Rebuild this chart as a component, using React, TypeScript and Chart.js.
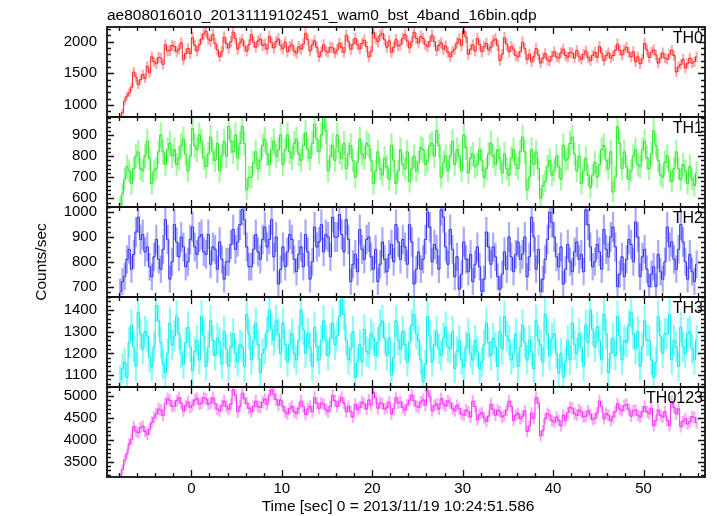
import React, { useEffect, useRef } from "react";
import { Chart, registerables } from "chart.js";

Chart.register(...registerables);

// ---- data: bin centres in seconds (0.25 s bins) and count rates ----
const TIMES = [
  -7.875, -7.625, -7.375, -7.125, -6.875, -6.625, -6.375, -6.125, -5.875, -5.625, -5.375, -5.125, -4.875, -4.625, -4.375, -4.125,
  -3.875, -3.625, -3.375, -3.125, -2.875, -2.625, -2.375, -2.125, -1.875, -1.625, -1.375, -1.125, -0.875, -0.625, -0.375, -0.125,
  0.125, 0.375, 0.625, 0.875, 1.125, 1.375, 1.625, 1.875, 2.125, 2.375, 2.625, 2.875, 3.125, 3.375, 3.625, 3.875,
  4.125, 4.375, 4.625, 4.875, 5.125, 5.375, 5.625, 5.875, 6.125, 6.375, 6.625, 6.875, 7.125, 7.375, 7.625, 7.875,
  8.125, 8.375, 8.625, 8.875, 9.125, 9.375, 9.625, 9.875, 10.125, 10.375, 10.625, 10.875, 11.125, 11.375, 11.625, 11.875,
  12.125, 12.375, 12.625, 12.875, 13.125, 13.375, 13.625, 13.875, 14.125, 14.375, 14.625, 14.875, 15.125, 15.375, 15.625, 15.875,
  16.125, 16.375, 16.625, 16.875, 17.125, 17.375, 17.625, 17.875, 18.125, 18.375, 18.625, 18.875, 19.125, 19.375, 19.625, 19.875,
  20.125, 20.375, 20.625, 20.875, 21.125, 21.375, 21.625, 21.875, 22.125, 22.375, 22.625, 22.875, 23.125, 23.375, 23.625, 23.875,
  24.125, 24.375, 24.625, 24.875, 25.125, 25.375, 25.625, 25.875, 26.125, 26.375, 26.625, 26.875, 27.125, 27.375, 27.625, 27.875,
  28.125, 28.375, 28.625, 28.875, 29.125, 29.375, 29.625, 29.875, 30.125, 30.375, 30.625, 30.875, 31.125, 31.375, 31.625, 31.875,
  32.125, 32.375, 32.625, 32.875, 33.125, 33.375, 33.625, 33.875, 34.125, 34.375, 34.625, 34.875, 35.125, 35.375, 35.625, 35.875,
  36.125, 36.375, 36.625, 36.875, 37.125, 37.375, 37.625, 37.875, 38.125, 38.375, 38.625, 38.875, 39.125, 39.375, 39.625, 39.875,
  40.125, 40.375, 40.625, 40.875, 41.125, 41.375, 41.625, 41.875, 42.125, 42.375, 42.625, 42.875, 43.125, 43.375, 43.625, 43.875,
  44.125, 44.375, 44.625, 44.875, 45.125, 45.375, 45.625, 45.875, 46.125, 46.375, 46.625, 46.875, 47.125, 47.375, 47.625, 47.875,
  48.125, 48.375, 48.625, 48.875, 49.125, 49.375, 49.625, 49.875, 50.125, 50.375, 50.625, 50.875, 51.125, 51.375, 51.625, 51.875,
  52.125, 52.375, 52.625, 52.875, 53.125, 53.375, 53.625, 53.875, 54.125, 54.375, 54.625, 54.875, 55.125, 55.375, 55.625, 55.875,
];

const TH0 = [
  780, 880, 1060, 1140, 1190, 1280, 1520, 1440, 1320, 1400, 1480, 1420, 1610, 1510, 1760, 1680,
  1650, 1750, 1740, 1640, 1950, 1850, 1860, 1940, 1920, 1840, 1880, 1980, 1710, 1810, 1890, 1810,
  2060, 1940, 1850, 1950, 2040, 2120, 2160, 2040, 2010, 2110, 1970, 1870, 1760, 1840, 2070, 1970,
  1900, 2000, 2150, 2050, 1880, 1980, 2030, 1930, 1850, 1950, 2110, 1990, 1910, 2010, 2040, 1940,
  1960, 1880, 2080, 1980, 1900, 2000, 2040, 1940, 1890, 1990, 1840, 1920, 1950, 1850, 1820, 1920,
  1880, 1960, 2130, 2030, 1850, 1950, 2010, 1910, 1760, 1840, 1950, 1850, 1830, 1910, 1900, 1820,
  1870, 1970, 1910, 1830, 2100, 2000, 1880, 1960, 2050, 1950, 1890, 1970, 2020, 1920, 1760, 1840,
  2150, 2050, 2000, 2100, 2130, 2030, 1910, 2010, 1830, 1910, 2030, 1930, 1950, 2050, 2110, 2010,
  1900, 2000, 2150, 2050, 1980, 2080, 2050, 1950, 1920, 2000, 2100, 2000, 1860, 1940, 1980, 1880,
  1930, 1830, 1760, 1840, 1880, 1980, 2040, 1940, 2170, 2070, 1800, 1880, 1950, 1850, 2050, 1950,
  1840, 1920, 1970, 1870, 1910, 2010, 2040, 1940, 1700, 1800, 2060, 1960, 1840, 1920, 1880, 1780,
  1760, 1840, 1990, 1890, 1720, 1800, 1680, 1760, 1890, 1790, 1660, 1740, 1810, 1710, 1690, 1770,
  1840, 1760, 1740, 1820, 1880, 1780, 1750, 1830, 1820, 1740, 1860, 1760, 1720, 1800, 1850, 1750,
  1700, 1780, 1830, 1750, 1920, 1820, 1700, 1780, 1820, 1740, 1780, 1860, 1960, 1860, 1790, 1870,
  1910, 1830, 1760, 1840, 1680, 1760, 1650, 1730, 1970, 1870, 1750, 1830, 1870, 1790, 1660, 1740,
  1820, 1740, 1720, 1800, 1860, 1780, 1520, 1600, 1640, 1720, 1580, 1660, 1740, 1660, 1680, 1760,
];

const TH1 = [
  560, 620, 690, 750, 730, 670, 740, 800, 820, 740, 730, 800, 870, 790, 670, 730,
  740, 820, 900, 820, 760, 830, 860, 800, 830, 760, 790, 850, 880, 810, 730, 800,
  930, 850, 830, 900, 870, 790, 750, 810, 890, 820, 780, 860, 730, 800, 870, 800,
  940, 870, 820, 900, 790, 860, 940, 860, 640, 700, 700, 770, 820, 740, 780, 850,
  880, 810, 760, 830, 870, 800, 830, 900, 760, 830, 900, 820, 790, 860, 880, 810,
  780, 850, 910, 830, 790, 860, 950, 880, 820, 900, 990, 920, 730, 800, 850, 780,
  900, 820, 790, 860, 740, 810, 850, 780, 700, 770, 880, 810, 790, 860, 850, 780,
  670, 730, 820, 740, 710, 790, 750, 690, 850, 780, 670, 730, 830, 760, 740, 820,
  680, 740, 800, 730, 770, 840, 830, 760, 780, 850, 860, 800, 920, 850, 700, 770,
  800, 730, 800, 870, 760, 830, 800, 730, 900, 840, 720, 790, 810, 750, 760, 830,
  780, 700, 740, 810, 860, 800, 760, 830, 790, 720, 810, 740, 710, 790, 830, 760,
  740, 820, 890, 820, 640, 700, 830, 760, 820, 740, 600, 660, 680, 750, 780, 710,
  730, 800, 750, 690, 850, 780, 790, 860, 890, 810, 730, 800, 670, 730, 790, 710,
  650, 710, 770, 700, 760, 830, 850, 780, 740, 820, 630, 700, 940, 860, 740, 820,
  750, 690, 730, 800, 830, 760, 750, 830, 870, 790, 740, 810, 920, 850, 780, 710,
  700, 770, 800, 730, 680, 740, 820, 740, 690, 760, 730, 670, 750, 690, 660, 720,
];

const TH2 = [
  680, 720, 740, 810, 850, 770, 830, 920, 980, 890, 910, 840, 860, 780, 740, 820,
  890, 810, 770, 850, 970, 890, 730, 800, 950, 880, 820, 900, 860, 780, 800, 890,
  940, 860, 830, 900, 910, 840, 830, 910, 790, 860, 850, 770, 880, 810, 730, 800,
  800, 870, 930, 850, 880, 950, 1010, 970, 860, 780, 780, 850, 910, 840, 810, 890,
  940, 860, 890, 970, 820, 900, 710, 770, 860, 780, 840, 910, 890, 810, 760, 830,
  860, 780, 910, 840, 730, 800, 940, 860, 880, 950, 840, 910, 900, 820, 980, 900,
  900, 990, 910, 840, 970, 890, 720, 790, 830, 760, 930, 850, 810, 890, 900, 820,
  770, 850, 720, 790, 880, 810, 760, 830, 870, 800, 950, 880, 810, 890, 860, 790,
  950, 880, 710, 770, 840, 770, 810, 890, 1000, 940, 800, 870, 850, 770, 1010, 980,
  860, 790, 930, 850, 740, 820, 690, 750, 880, 810, 760, 830, 720, 790, 860, 780,
  680, 730, 920, 860, 790, 860, 820, 740, 690, 750, 840, 770, 900, 820, 760, 830,
  880, 810, 830, 900, 740, 820, 980, 900, 770, 850, 680, 730, 810, 890, 1000, 960,
  900, 820, 780, 860, 710, 770, 870, 800, 760, 840, 880, 810, 830, 760, 1010, 950,
  860, 780, 800, 870, 840, 770, 930, 850, 820, 900, 940, 860, 700, 750, 820, 740,
  810, 890, 870, 800, 960, 900, 740, 820, 850, 770, 700, 750, 780, 700, 830, 760,
  730, 800, 940, 860, 880, 810, 770, 850, 950, 880, 800, 730, 830, 760, 720, 790,
];

const TH3 = [
  1080, 1130, 1160, 1090, 1250, 1330, 1230, 1140, 1390, 1290, 1220, 1300, 1280, 1180, 1140, 1230,
  1420, 1350, 1250, 1150, 1110, 1200, 1340, 1240, 1280, 1370, 1290, 1200, 1150, 1250, 1320, 1230,
  1120, 1210, 1260, 1170, 1370, 1280, 1140, 1230, 1350, 1260, 1190, 1270, 1250, 1150, 1300, 1220,
  1140, 1230, 1290, 1200, 1160, 1240, 1230, 1140, 1380, 1290, 1170, 1260, 1340, 1240, 1110, 1200,
  1220, 1300, 1400, 1310, 1260, 1350, 1290, 1200, 1340, 1240, 1160, 1240, 1290, 1200, 1170, 1260,
  1400, 1310, 1200, 1290, 1230, 1140, 1320, 1230, 1170, 1260, 1350, 1260, 1190, 1270, 1340, 1240,
  1280, 1370, 1450, 1380, 1260, 1170, 1220, 1300, 1090, 1160, 1240, 1160, 1310, 1210, 1200, 1290,
  1270, 1190, 1250, 1330, 1350, 1270, 1190, 1270, 1100, 1180, 1350, 1260, 1220, 1300, 1240, 1160,
  1250, 1330, 1380, 1290, 1260, 1170, 1070, 1150, 1370, 1280, 1160, 1240, 1300, 1220, 1190, 1270,
  1320, 1230, 1220, 1300, 1130, 1210, 1260, 1170, 1140, 1230, 1290, 1200, 1170, 1260, 1210, 1130,
  1160, 1240, 1340, 1250, 1190, 1270, 1230, 1140, 1300, 1220, 1370, 1280, 1260, 1170, 1200, 1290,
  1140, 1230, 1330, 1250, 1170, 1260, 1210, 1130, 1350, 1260, 1240, 1160, 1380, 1290, 1190, 1270,
  1290, 1200, 1110, 1200, 1090, 1160, 1260, 1170, 1340, 1240, 1200, 1290, 1230, 1140, 1330, 1250,
  1400, 1310, 1230, 1320, 1260, 1170, 1380, 1290, 1110, 1200, 1270, 1190, 1370, 1280, 1170, 1260,
  1250, 1330, 1390, 1290, 1220, 1300, 1140, 1230, 1350, 1260, 1260, 1170, 1090, 1160, 1370, 1280,
  1200, 1290, 1290, 1380, 1170, 1260, 1230, 1140, 1320, 1230, 1200, 1290, 1300, 1220, 1170, 1260,
];

const TH0123 = [
  3120, 3320, 3530, 3680, 3900, 4010, 4300, 4200, 4160, 4280, 4310, 4190, 4120, 4240, 4400, 4510,
  4590, 4700, 4680, 4560, 4820, 4940, 4900, 4760, 4770, 4890, 4960, 4840, 4660, 4780, 4860, 4740,
  4790, 4910, 4950, 4810, 4840, 4960, 4930, 4810, 4840, 4960, 4820, 4700, 4660, 4780, 4880, 4760,
  4690, 4810, 5140, 5020, 4640, 4760, 5060, 4940, 4840, 4720, 4640, 4760, 4880, 4760, 4740, 4860,
  4930, 4810, 5020, 5140, 5040, 4920, 4790, 4910, 4760, 4640, 4590, 4710, 4760, 4640, 4600, 4720,
  4880, 4760, 4580, 4700, 4760, 4640, 4960, 4840, 4720, 4840, 4810, 4690, 4640, 4760, 5010, 4890,
  4760, 4880, 4960, 4840, 4640, 4760, 4640, 4520, 4810, 4690, 4740, 4860, 4820, 4700, 4910, 4790,
  5080, 4960, 4720, 4840, 4820, 4700, 4740, 4860, 4590, 4710, 4960, 4840, 4860, 4740, 4680, 4800,
  4900, 5020, 4890, 4770, 4740, 4860, 4910, 4790, 5110, 4990, 4660, 4780, 4820, 4700, 4940, 4820,
  4770, 4890, 4840, 4720, 4660, 4780, 4710, 4590, 4560, 4680, 4640, 4520, 4880, 4760, 4460, 4580,
  4620, 4500, 4420, 4540, 4810, 4690, 4560, 4680, 4640, 4520, 4560, 4680, 4880, 4760, 4440, 4560,
  4600, 4480, 4540, 4660, 4190, 4310, 4610, 4490, 4960, 4840, 4090, 4210, 4480, 4600, 4560, 4440,
  4400, 4520, 4440, 4320, 4560, 4440, 4620, 4740, 4720, 4600, 4560, 4680, 4640, 4520, 4540, 4660,
  4580, 4460, 4490, 4610, 4880, 4760, 4480, 4600, 4560, 4440, 4520, 4640, 4820, 4700, 4660, 4780,
  4810, 4690, 4540, 4660, 4680, 4560, 4520, 4640, 4760, 4640, 4600, 4720, 4320, 4440, 4680, 4560,
  4520, 4640, 4440, 4320, 4860, 4740, 4590, 4710, 4300, 4420, 4480, 4360, 4410, 4530, 4510, 4390,
];

const BIN_WIDTH = 0.25;

const X_TICKS = [0, 10, 20, 30, 40, 50];
const TH0_TICKS = [1000, 1500, 2000];
const TH1_TICKS = [600, 700, 800, 900];
const TH2_TICKS = [700, 800, 900, 1000];
const TH3_TICKS = [1100, 1200, 1300, 1400];
const TH0123_TICKS = [3500, 4000, 4500, 5000];
const PANEL_LABELS = ["TH0", "TH1", "TH2", "TH3", "TH0123"];

const TITLE = "ae808016010_20131119102451_wam0_bst_4band_16bin.qdp";
const X_TITLE = "Time [sec] 0 = 2013/11/19 10:24:51.586";
const Y_TITLE = "Counts/sec";

// ---- styling / configuration ----
const FONT = "'Liberation Sans', Arial, Helvetica, sans-serif";
const FONT_SIZE = 15;
const X_MIN = -9.33;
const X_MAX = 56.8;

const PANELS = [
  { id: "y0", name: PANEL_LABELS[0], values: TH0, ticks: TH0_TICKS, min: 810, max: 2230, minor: 100, color: "rgb(255,35,35)", band: "rgba(255,100,100,0.55)" },
  { id: "y1", name: PANEL_LABELS[1], values: TH1, ticks: TH1_TICKS, min: 559, max: 985, minor: 20, color: "rgb(40,230,40)", band: "rgba(90,245,90,0.55)" },
  { id: "y2", name: PANEL_LABELS[2], values: TH2, ticks: TH2_TICKS, min: 658, max: 1021, minor: 20, color: "rgb(45,45,240)", band: "rgba(100,100,250,0.55)" },
  { id: "y3", name: PANEL_LABELS[3], values: TH3, ticks: TH3_TICKS, min: 1045, max: 1460, minor: 20, color: "rgb(10,235,235)", band: "rgba(60,250,250,0.6)" },
  { id: "y4", name: PANEL_LABELS[4], values: TH0123, ticks: TH0123_TICKS, min: 3150, max: 5205, minor: 100, color: "rgb(250,40,250)", band: "rgba(250,100,250,0.55)" },
];

// Poisson error bars drawn behind each stepped light curve, clipped to its panel
const panelPlugin = {
  id: "qdpPanels",
  beforeDatasetDraw(chart: any, args: any) {
    const p = PANELS[args.index];
    const xs = chart.scales.x;
    const ys = chart.scales[p.id];
    const ctx = chart.ctx;
    const pts = chart.data.datasets[args.index].data as { x: number; y: number }[];
    ctx.save();
    ctx.beginPath();
    ctx.rect(xs.left, ys.top, xs.right - xs.left, ys.bottom - ys.top);
    ctx.clip();
    ctx.strokeStyle = p.band;
    ctx.lineWidth = 2.2;
    ctx.beginPath();
    pts.forEach(({ x: t, y: v }) => {
      const e = Math.sqrt(v * BIN_WIDTH) / BIN_WIDTH;
      const x = xs.getPixelForValue(t);
      ctx.moveTo(x, ys.getPixelForValue(v + e));
      ctx.lineTo(x, ys.getPixelForValue(v - e));
    });
    ctx.stroke();
  },
  afterDatasetDraw(chart: any) {
    chart.ctx.restore();
  },
  afterDatasetsDraw(chart: any) {
    const ctx = chart.ctx;
    const xs = chart.scales.x;
    const L = xs.left;
    const R = xs.right;
    ctx.save();
    ctx.strokeStyle = "#111";
    ctx.lineWidth = 1.3;
    PANELS.forEach((p) => {
      const ys = chart.scales[p.id];
      const T = ys.top;
      const B = ys.bottom;
      ctx.beginPath();
      p.ticks.forEach((v) => {
        const y = Math.round(ys.getPixelForValue(v)) + 0.5;
        ctx.moveTo(L, y); ctx.lineTo(L + 7, y);
        ctx.moveTo(R, y); ctx.lineTo(R - 7, y);
      });
      const start = Math.ceil(p.min / p.minor) * p.minor;
      for (let v = start; v <= p.max; v += p.minor) {
        const y = Math.round(ys.getPixelForValue(v)) + 0.5;
        ctx.moveTo(L, y); ctx.lineTo(L + 4, y);
        ctx.moveTo(R, y); ctx.lineTo(R - 4, y);
      }
      for (let t = -8; t <= X_MAX; t += 2) {
        const x = Math.round(xs.getPixelForValue(t)) + 0.5;
        const len = t % 10 === 0 ? 7 : 4;
        ctx.moveTo(x, T); ctx.lineTo(x, T + len);
        ctx.moveTo(x, B); ctx.lineTo(x, B - len);
      }
      ctx.stroke();
    });
    ctx.lineWidth = 1.8;
    PANELS.forEach((p) => {
      const ys = chart.scales[p.id];
      ctx.strokeRect(L, ys.top, R - L, ys.bottom - ys.top);
    });
    ctx.fillStyle = "#000";
    ctx.font = `${FONT_SIZE + 1}px ${FONT}`;
    ctx.textAlign = "right";
    ctx.textBaseline = "alphabetic";
    PANELS.forEach((p) => {
      const ys = chart.scales[p.id];
      ctx.fillText(p.name, R - 2, ys.top + 16);
    });
    ctx.font = `${FONT_SIZE + 0.5}px ${FONT}`;
    ctx.textAlign = "left";
    ctx.fillText(TITLE, L, 20);
    ctx.textAlign = "center";
    ctx.fillText(X_TITLE, 398, 511);
    ctx.translate(46, 262);
    ctx.rotate(-Math.PI / 2);
    ctx.fillText(Y_TITLE, 0, 0);
    ctx.restore();
  },
};

export default function App() {
  const ref = useRef<HTMLCanvasElement | null>(null);

  useEffect(() => {
    if (!ref.current) return;
    const scales: any = {
      x: {
        type: "linear",
        position: "bottom",
        min: X_MIN,
        max: X_MAX,
        grid: { display: false, drawTicks: false },
        border: { display: false },
        ticks: {
          font: { family: FONT, size: FONT_SIZE },
          color: "#000",
          padding: 3,
          autoSkip: false,
          maxRotation: 0,
          callback: (v: any) => String(v),
        },
        afterBuildTicks: (s: any) => {
          s.ticks = X_TICKS.map((v) => ({ value: v }));
        },
        afterFit: (s: any) => {
          s.height = 39;
        },
      },
    };
    PANELS.forEach((p, i) => {
      scales[p.id] = {
        type: "linear",
        position: "left",
        stack: "panels",
        stackWeight: 1,
        weight: 10 - i,
        offset: false,
        min: p.min,
        max: p.max,
        grid: { display: false, drawTicks: false },
        border: { display: false },
        ticks: {
          font: { family: FONT, size: FONT_SIZE },
          color: "#000",
          padding: 10,
          autoSkip: false,
          callback: (v: any) => String(v),
        },
        afterBuildTicks: (s: any) => {
          s.ticks = p.ticks.map((v) => ({ value: v }));
        },
        afterFit: (s: any) => {
          s.width = 107;
        },
      };
    });

    const chart = new Chart(ref.current, {
      type: "line",
      data: {
        datasets: PANELS.map((p) => ({
          label: p.name,
          data: TIMES.map((t, k) => ({ x: t, y: p.values[k] })),
          xAxisID: "x",
          yAxisID: p.id,
          borderColor: p.color,
          borderWidth: 1,
          stepped: "middle" as const,
          pointRadius: 0,
          fill: false,
        })),
      },
      options: {
        responsive: false,
        animation: false,
        devicePixelRatio: 1,
        layout: { padding: { left: 0, right: 12, top: 27, bottom: 0 } },
        plugins: { legend: { display: false }, tooltip: { enabled: false }, title: { display: false } },
        scales,
      },
      plugins: [panelPlugin],
    });
    return () => chart.destroy();
  }, []);

  return (
    <div style={{ position: "fixed", left: 0, top: 0, width: 717, height: 516, background: "#fff" }}>
      <canvas ref={ref} width={717} height={516} />
    </div>
  );
}
